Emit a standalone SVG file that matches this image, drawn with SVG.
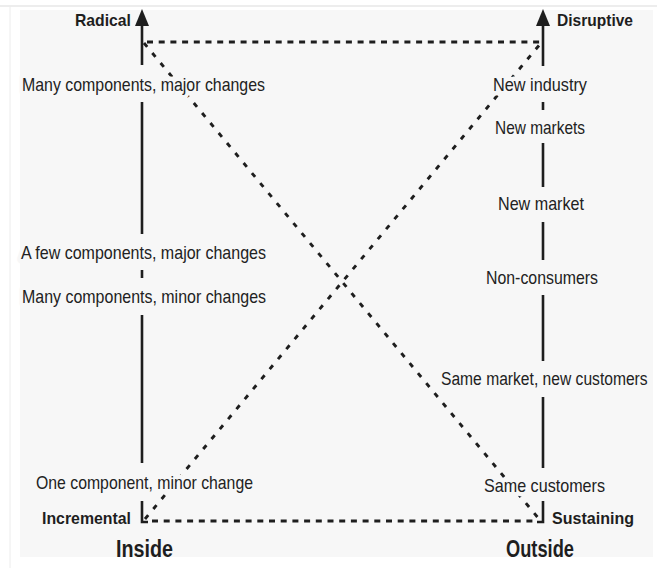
<svg xmlns="http://www.w3.org/2000/svg" width="657" height="568" viewBox="0 0 657 568">
  <defs>
    <style>
      text { paint-order: stroke; stroke: #f7f7f7; stroke-linejoin: round; }
      .lbl { font-family: "Liberation Sans Narrow", "Liberation Sans", Arial, sans-serif; font-size: 19px; fill: #222222; stroke-width: 9px; }
      .pole { font-family: "Liberation Sans Narrow", "Liberation Sans", Arial, sans-serif; font-size: 17px; font-weight: bold; fill: #1e1e1e; stroke-width: 4px; }
      .side { font-family: "Liberation Sans Narrow", "Liberation Sans", Arial, sans-serif; font-size: 23px; font-weight: bold; fill: #1e1e1e; stroke-width: 0; }
      .axis { stroke: #1e1e1e; stroke-width: 2.6; fill: none; }
      .edge { stroke: #1e1e1e; stroke-width: 2.8; fill: none; stroke-dasharray: 6 5.7; }
      .diag { stroke: #1e1e1e; stroke-width: 2.9; fill: none; stroke-dasharray: 5 8; }
    </style>
  </defs>

  <!-- page background -->
  <rect x="0" y="0" width="657" height="568" fill="#ffffff"/>
  <rect x="20" y="10" width="633" height="547" fill="#f7f7f7"/>
  <line x1="0" y1="6" x2="657" y2="6" stroke="#dcdcdc" stroke-width="1.2"/>
  <line x1="10" y1="6" x2="10" y2="568" stroke="#ececec" stroke-width="1"/>

  <g id="connectors">
    <!-- left axis: Incremental to Radical -->
    <path class="axis" d="M142 25 V65 M142 102 V234 M142 270 V278 M142 315 V463 M142 501 V522 H148"/>
    <polygon points="142,9 135,26 149,26" fill="#1e1e1e"/>
    <!-- right axis: Sustaining to Disruptive -->
    <path class="axis" d="M543 25 V66 M543 102 V110 M543 143 V187 M543 222 V260 M543 295 V361 M543 397 V468 M543 501 V522 H537"/>
    <polygon points="543,9 536,26 550,26" fill="#1e1e1e"/>
    <!-- dashed frame edges -->
    <line class="edge" x1="147" y1="42" x2="541" y2="42"/>
    <line class="edge" x1="152" y1="521" x2="534" y2="521"/>
    <!-- crossing diagonals -->
    <line class="diag" x1="144" y1="43" x2="539" y2="519"/>
    <line class="diag" x1="145" y1="519" x2="541" y2="43"/>
  </g>

  <g id="radical"><text class="pole" x="75" y="26" textLength="56" lengthAdjust="spacingAndGlyphs">Radical</text></g>
  <g id="disruptive"><text class="pole" x="557" y="26" textLength="76" lengthAdjust="spacingAndGlyphs">Disruptive</text></g>
  <g id="incremental"><text class="pole" x="42" y="524" textLength="89" lengthAdjust="spacingAndGlyphs">Incremental</text></g>
  <g id="sustaining"><text class="pole" x="552" y="524" textLength="82" lengthAdjust="spacingAndGlyphs">Sustaining</text></g>
  <g id="inside"><text class="side" x="116" y="557" textLength="57" lengthAdjust="spacingAndGlyphs">Inside</text></g>
  <g id="outside"><text class="side" x="506" y="557" textLength="68" lengthAdjust="spacingAndGlyphs">Outside</text></g>

  <g id="many-major"><text class="lbl" x="22" y="91" textLength="243" lengthAdjust="spacingAndGlyphs">Many components, major changes</text></g>
  <g id="few-major"><text class="lbl" x="21" y="259" textLength="245" lengthAdjust="spacingAndGlyphs">A few components, major changes</text></g>
  <g id="many-minor"><text class="lbl" x="22" y="303" textLength="244" lengthAdjust="spacingAndGlyphs">Many components, minor changes</text></g>
  <g id="one-minor"><text class="lbl" x="36" y="489" textLength="217" lengthAdjust="spacingAndGlyphs">One component, minor change</text></g>

  <g id="new-industry"><text class="lbl" x="493" y="91" textLength="94" lengthAdjust="spacingAndGlyphs">New industry</text></g>
  <g id="new-markets"><text class="lbl" x="495" y="134" textLength="90" lengthAdjust="spacingAndGlyphs">New markets</text></g>
  <g id="new-market"><text class="lbl" x="498" y="210" textLength="86" lengthAdjust="spacingAndGlyphs">New market</text></g>
  <g id="non-consumers"><text class="lbl" x="486" y="284" textLength="112" lengthAdjust="spacingAndGlyphs">Non-consumers</text></g>
  <!-- long label narrowed with a horizontal scale so it stays inside the page -->
  <g id="same-market"><text class="lbl" transform="translate(441 385) scale(0.84 1)" x="0" y="0" textLength="246" lengthAdjust="spacingAndGlyphs">Same market, new customers</text></g>
  <g id="same-customers"><text class="lbl" x="484" y="492" textLength="121" lengthAdjust="spacingAndGlyphs">Same customers</text></g>
</svg>
